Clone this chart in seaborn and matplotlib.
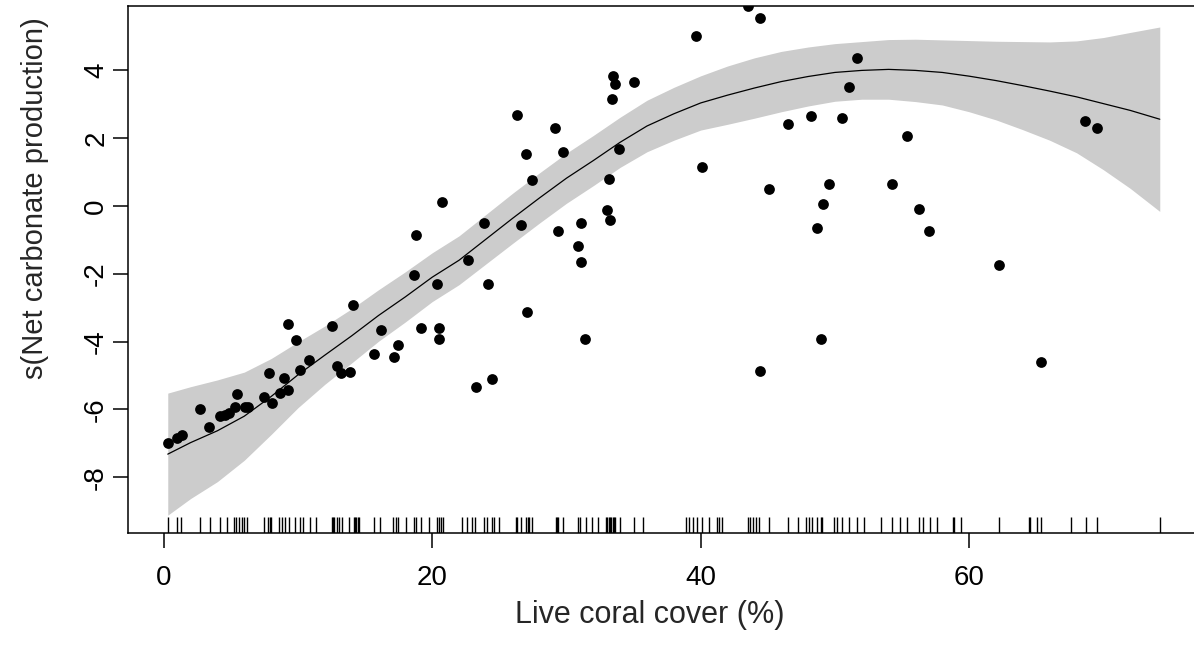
import matplotlib
matplotlib.use("Agg")
import matplotlib.pyplot as plt
import numpy as np
import seaborn as sns

# Smooth term s(cover): fitted curve and 2*SE half-width on a grid of cover values
grid_cover = [0.3, 2, 4, 6, 8, 10, 12, 14, 16, 18, 20, 22, 24, 26, 28, 30, 32, 34, 36,
              38, 40, 42, 44, 46, 48, 50, 52, 54, 56, 58, 60, 62, 64, 66, 68, 70, 72, 74.2]
smooth_fit = [-7.32, -6.98, -6.63, -6.20, -5.62, -4.98, -4.40, -3.83, -3.23, -2.68, -2.10,
              -1.60, -0.98, -0.36, 0.24, 0.82, 1.34, 1.88, 2.36, 2.72, 3.04, 3.27, 3.48,
              3.67, 3.82, 3.94, 4.00, 4.03, 4.00, 3.94, 3.83, 3.70, 3.55, 3.39, 3.22, 3.02,
              2.82, 2.56]
smooth_2se = [1.80, 1.65, 1.50, 1.30, 1.12, 0.97, 0.86, 0.80, 0.76, 0.74, 0.72, 0.72, 0.73,
              0.74, 0.74, 0.74, 0.74, 0.74, 0.76, 0.78, 0.80, 0.86, 0.89, 0.89, 0.87, 0.85,
              0.85, 0.88, 0.92, 0.96, 1.05, 1.16, 1.30, 1.45, 1.65, 1.95, 2.30, 2.72]

# Partial residuals inside the plotted range
cover = [0.32, 0.99, 1.34, 2.73, 3.38, 4.17, 4.55, 4.87, 5.29, 5.49, 6.04, 6.24, 7.45, 7.85,
         8.05, 8.64, 8.94, 9.29, 9.29, 9.84, 10.16, 10.80, 12.57, 12.91, 13.19, 13.84, 14.11,
         15.65, 16.15, 17.14, 17.46,
         39.64, 33.48, 33.63, 35.05, 33.38, 26.28, 29.16, 26.95, 29.71, 33.93, 40.11, 27.42,
         33.16, 20.74, 33.03, 33.26, 31.05, 23.87, 26.65, 29.38, 18.78, 30.83, 22.65, 31.05,
         18.65, 20.32, 24.17,
         27.07, 19.13, 20.54, 20.54, 31.39, 24.42, 23.23,
         43.54, 44.41, 51.64, 51.07, 48.21, 46.52, 50.52, 55.39, 45.08, 49.53, 54.27, 49.08,
         56.26, 48.63, 57.03,
         48.98, 44.43,
         68.65, 69.52, 62.24, 65.35]
partial_resid = [-6.98, -6.85, -6.76, -5.99, -6.52, -6.19, -6.16, -6.10, -5.92, -5.55, -5.94,
                 -5.94, -5.62, -4.94, -5.82, -5.53, -5.06, -5.43, -3.48, -3.96, -4.85, -4.54,
                 -3.54, -4.71, -4.94, -4.91, -2.92, -4.37, -3.66, -4.45, -4.11,
                 5.01, 3.83, 3.60, 3.66, 3.17, 2.68, 2.30, 1.54, 1.59, 1.68, 1.16, 0.76,
                 0.81, 0.11, -0.12, -0.42, -0.51, -0.51, -0.56, -0.73, -0.87, -1.18, -1.59,
                 -1.65, -2.04, -2.31, -2.31,
                 -3.14, -3.59, -3.59, -3.93, -3.93, -5.11, -5.33,
                 5.90, 5.54, 4.36, 3.52, 2.65, 2.42, 2.60, 2.07, 0.49, 0.64, 0.64, 0.06,
                 -0.08, -0.65, -0.73,
                 -3.93, -4.86,
                 2.51, 2.29, -1.74, -4.59]

# Every observed coral cover value (rug)
rug_cover = [0.32, 0.99, 1.27, 2.73, 3.43, 4.20, 4.74, 5.24, 5.39, 5.61, 5.86, 5.98, 6.18,
             7.48, 7.80, 7.90, 8.02, 8.59, 8.84, 9.02, 9.34, 9.78, 10.18, 10.41, 10.88, 11.33,
             12.50, 12.60, 12.72, 12.89, 13.09, 13.31, 13.81, 14.15, 14.25, 14.35, 14.45,
             14.55, 15.67, 16.10, 17.09, 17.30, 17.45, 18.03, 18.65, 18.80, 19.13, 19.77,
             20.32, 20.47, 20.62, 20.81, 22.20, 22.60, 22.95, 23.17, 23.85, 24.10, 24.42,
             24.60, 24.99, 26.25, 26.33, 26.60, 27.00, 27.10, 27.20, 27.42, 29.20, 29.30,
             29.40, 29.73, 30.83, 31.00, 31.42, 31.94, 32.36, 32.95, 33.05, 33.15, 33.25,
             33.35, 33.45, 33.55, 33.65, 33.98, 35.05, 35.69, 38.87, 39.12, 39.44, 39.74,
             40.11, 40.59, 41.21, 41.38, 41.60, 43.55, 43.65, 43.91, 44.09, 44.36, 45.10,
             46.47, 47.24, 47.84, 48.08, 48.29, 48.63, 48.97, 49.07, 49.93, 50.17, 50.50,
             51.07, 51.62, 52.18, 53.40, 54.27, 54.84, 55.39, 56.26, 56.58, 57.08, 57.58,
             58.82, 58.90, 59.39, 62.24, 64.47, 64.53, 65.03, 65.33, 67.56, 68.68, 69.50,
             74.22]

x_ticks = [0, 20, 40, 60]
y_ticks = [-8, -6, -4, -2, 0, 2, 4]
x_label = "Live coral cover (%)"
y_label = "s(Net carbonate production)"

sns.set_style("white")
plt.rcParams["font.family"] = ["Liberation Sans", "DejaVu Sans"]
plt.rcParams["axes.unicode_minus"] = False

W, H = 1194, 646
fig = plt.figure(figsize=(W / 100, H / 100), dpi=100)
left_px, right_px, top_px, bottom_px = 128.3, 1199.5, 6.3, 533.3
ax = fig.add_axes([left_px / W, 1 - bottom_px / H,
                   (right_px - left_px) / W, (bottom_px - top_px) / H])

fit = np.array(smooth_fit)
half = np.array(smooth_2se)
ax.fill_between(grid_cover, fit - half, fit + half, color="#CCCCCC", linewidth=0, zorder=1)
sns.lineplot(x=grid_cover, y=smooth_fit, color="black", linewidth=0.9, ax=ax, zorder=2)
sns.scatterplot(x=cover, y=partial_resid, color="black", s=60, linewidth=0, ax=ax, zorder=3)
sns.rugplot(x=rug_cover, height=0.03, color="black", linewidth=1.0, ax=ax, zorder=3)

ax.set_xlim(-2.64, 77.16)
ax.set_ylim(-9.655, 5.891)
ax.set_xticks(x_ticks)
ax.set_xticklabels([str(t) for t in x_ticks])
ax.set_yticks(y_ticks)
ax.set_yticklabels([str(t) for t in y_ticks], rotation=90, va="center")

for sp in ax.spines.values():
    sp.set_visible(True)
    sp.set_color("black")
    sp.set_linewidth(1.1)
ax.tick_params(axis="both", direction="out", length=10.8, width=1.1, color="black",
               labelsize=20, labelcolor="black", bottom=True, left=True, top=False, right=False)
ax.tick_params(axis="x", pad=12)
ax.tick_params(axis="y", pad=3)

ax.set_xlabel(x_label, fontsize=22)
ax.set_ylabel(y_label, fontsize=21)
# label anchors, in axes fractions
ax.xaxis.label.set_va("center")
ax.xaxis.set_label_coords((650 - left_px) / (right_px - left_px),
                          (bottom_px - 615) / (bottom_px - top_px))
ax.yaxis.label.set_va("center")
ax.yaxis.set_label_coords((35 - left_px) / (right_px - left_px),
                          (bottom_px - 198) / (bottom_px - top_px))
ax.grid(False)

fig.savefig("out.png", dpi=100)
